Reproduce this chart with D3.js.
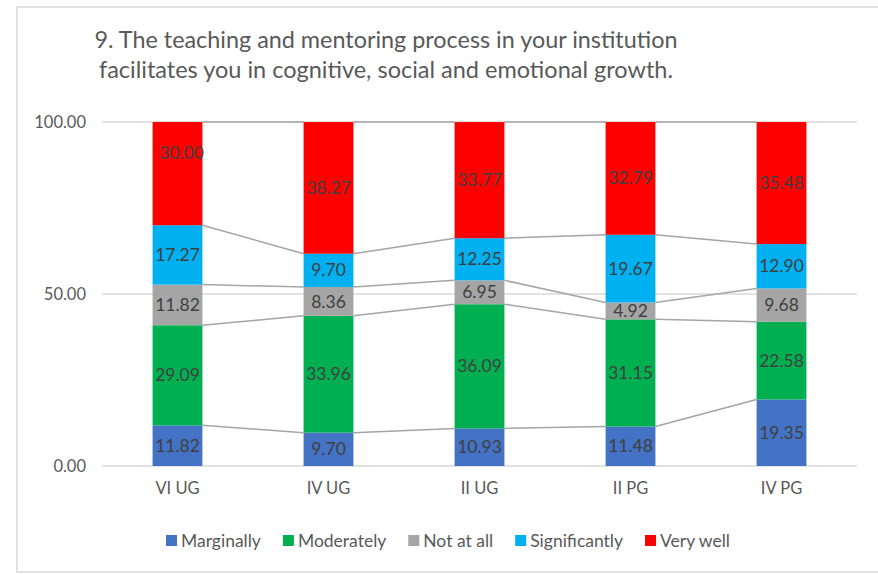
<!DOCTYPE html>
<html>
<head>
<meta charset="utf-8">
<script src="https://cdn.jsdelivr.net/npm/d3@7"></script>
<style>
  html, body { margin: 0; padding: 0; background: #fff; }
  svg { display: block; }
  text { font-family: Lato, "Open Sans", sans-serif; }
</style>
</head>
<body>
<svg id="chart" width="878" height="574"></svg>
<script>
// ---- data ----
const categories = ["VI UG", "IV UG", "II UG", "II PG", "IV PG"];
const seriesNames = ["Marginally", "Moderately", "Not at all", "Significantly", "Very well"];
const marginally    = [11.82,  9.70, 10.93, 11.48, 19.35];
const moderately    = [29.09, 33.96, 36.09, 31.15, 22.58];
const notAtAll      = [11.82,  8.36,  6.95,  4.92,  9.68];
const significantly = [17.27,  9.70, 12.25, 19.67, 12.90];
const veryWell      = [30.00, 38.27, 33.77, 32.79, 35.48];
const yTicks = [0, 50, 100];
const titleLines = [
  "9. The teaching and mentoring process in your institution",
  "facilitates you in cognitive, social and emotional growth."
];
const colors = ["#4472C4", "#00B050", "#A5A5A5", "#00B0F0", "#FF0000"];

const seriesValues = [marginally, moderately, notAtAll, significantly, veryWell];
const rows = categories.map((c, i) => {
  const r = { cat: c };
  seriesNames.forEach((s, k) => r[s] = seriesValues[k][i]);
  return r;
});

const svg = d3.select("#chart");

// outer border
svg.append("rect").attr("x", 17).attr("y", 7).attr("width", 880).attr("height", 565)
  .attr("fill", "#fff").attr("stroke", "#d9d9d9").attr("stroke-width", 1.5);

// title
const titleWidths = [583, 574];
titleLines.forEach((t, i) => {
  svg.append("text").attr("x", 386).attr("y", 48 + i * 30)
    .attr("text-anchor", "middle").attr("font-size", 24).attr("fill", "#595959")
    .attr("textLength", titleWidths[i]).attr("lengthAdjust", "spacingAndGlyphs")
    .text(t);
});

// scales
const x = d3.scaleBand().domain(categories).range([102, 857])
  .paddingInner(0.67).paddingOuter(0.335);
const y = d3.scaleLinear().domain([0, 100]).range([466, 122]);

// gridlines
svg.append("g").selectAll("line").data(yTicks).join("line")
  .attr("x1", 102).attr("x2", 857)
  .attr("y1", d => y(d)).attr("y2", d => y(d))
  .attr("stroke", "#d9d9d9").attr("stroke-width", 1.3);

// y axis labels
const yAxis = d3.axisLeft(y).tickValues(yTicks).tickFormat(d3.format(".2f")).tickSize(0).tickPadding(0);
const yg = svg.append("g").attr("transform", "translate(86,0)").call(yAxis);
yg.select(".domain").remove();
yg.selectAll("text").attr("font-size", 16.5).attr("fill", "#595959").attr("font-family", "Lato, sans-serif");

// x axis labels
const xAxis = d3.axisBottom(x).tickSize(0).tickPadding(0);
const xg = svg.append("g").attr("transform", "translate(0,482)").call(xAxis);
xg.select(".domain").remove();
xg.selectAll("text").attr("font-size", 16.5).attr("fill", "#595959").attr("font-family", "Lato, sans-serif");

// stack
const stacked = d3.stack().keys(seriesNames)(rows);

// series lines (connect tops of segments between adjacent bars)
const lineG = svg.append("g");
stacked.forEach(layer => {
  for (let i = 0; i < categories.length - 1; i++) {
    lineG.append("line")
      .attr("x1", x(categories[i]) + x.bandwidth())
      .attr("x2", x(categories[i + 1]))
      .attr("y1", y(layer[i][1]))
      .attr("y2", y(layer[i + 1][1]))
      .attr("stroke", "#A5A5A5").attr("stroke-width", 1.5);
  }
});

// bars
const barG = svg.append("g");
stacked.forEach((layer, k) => {
  barG.append("g").attr("fill", colors[k]).selectAll("rect").data(layer).join("rect")
    .attr("x", d => x(d.data.cat))
    .attr("width", x.bandwidth())
    .attr("y", d => y(d[1]))
    .attr("height", d => y(d[0]) - y(d[1]));
});

// data labels
const labelOffset = { "Very well|VI UG": [4, -21] };
const labG = svg.append("g");
stacked.forEach((layer, k) => {
  layer.forEach(d => {
    const off = labelOffset[layer.key + "|" + d.data.cat] || [0, 0];
    labG.append("text")
      .attr("x", x(d.data.cat) + x.bandwidth() / 2 + off[0])
      .attr("y", (y(d[0]) + y(d[1])) / 2 + off[1])
      .attr("dy", "0.35em")
      .attr("text-anchor", "middle")
      .attr("font-size", 17.5)
      .attr("fill", "#404040")
      .text(d3.format(".2f")(d.data[layer.key]));
  });
});

// legend
const leg = svg.append("g");
let lx = 166;
seriesNames.forEach((s, k) => {
  leg.append("rect").attr("x", lx).attr("y", 535).attr("width", 11).attr("height", 11).attr("fill", colors[k]);
  const t = leg.append("text").attr("x", lx + 15).attr("y", 540.5).attr("dy", "0.35em")
    .attr("font-size", 17.5).attr("fill", "#595959").text(s);
  lx += 15 + t.node().getComputedTextLength() + 22;
});
</script>
</body>
</html>
